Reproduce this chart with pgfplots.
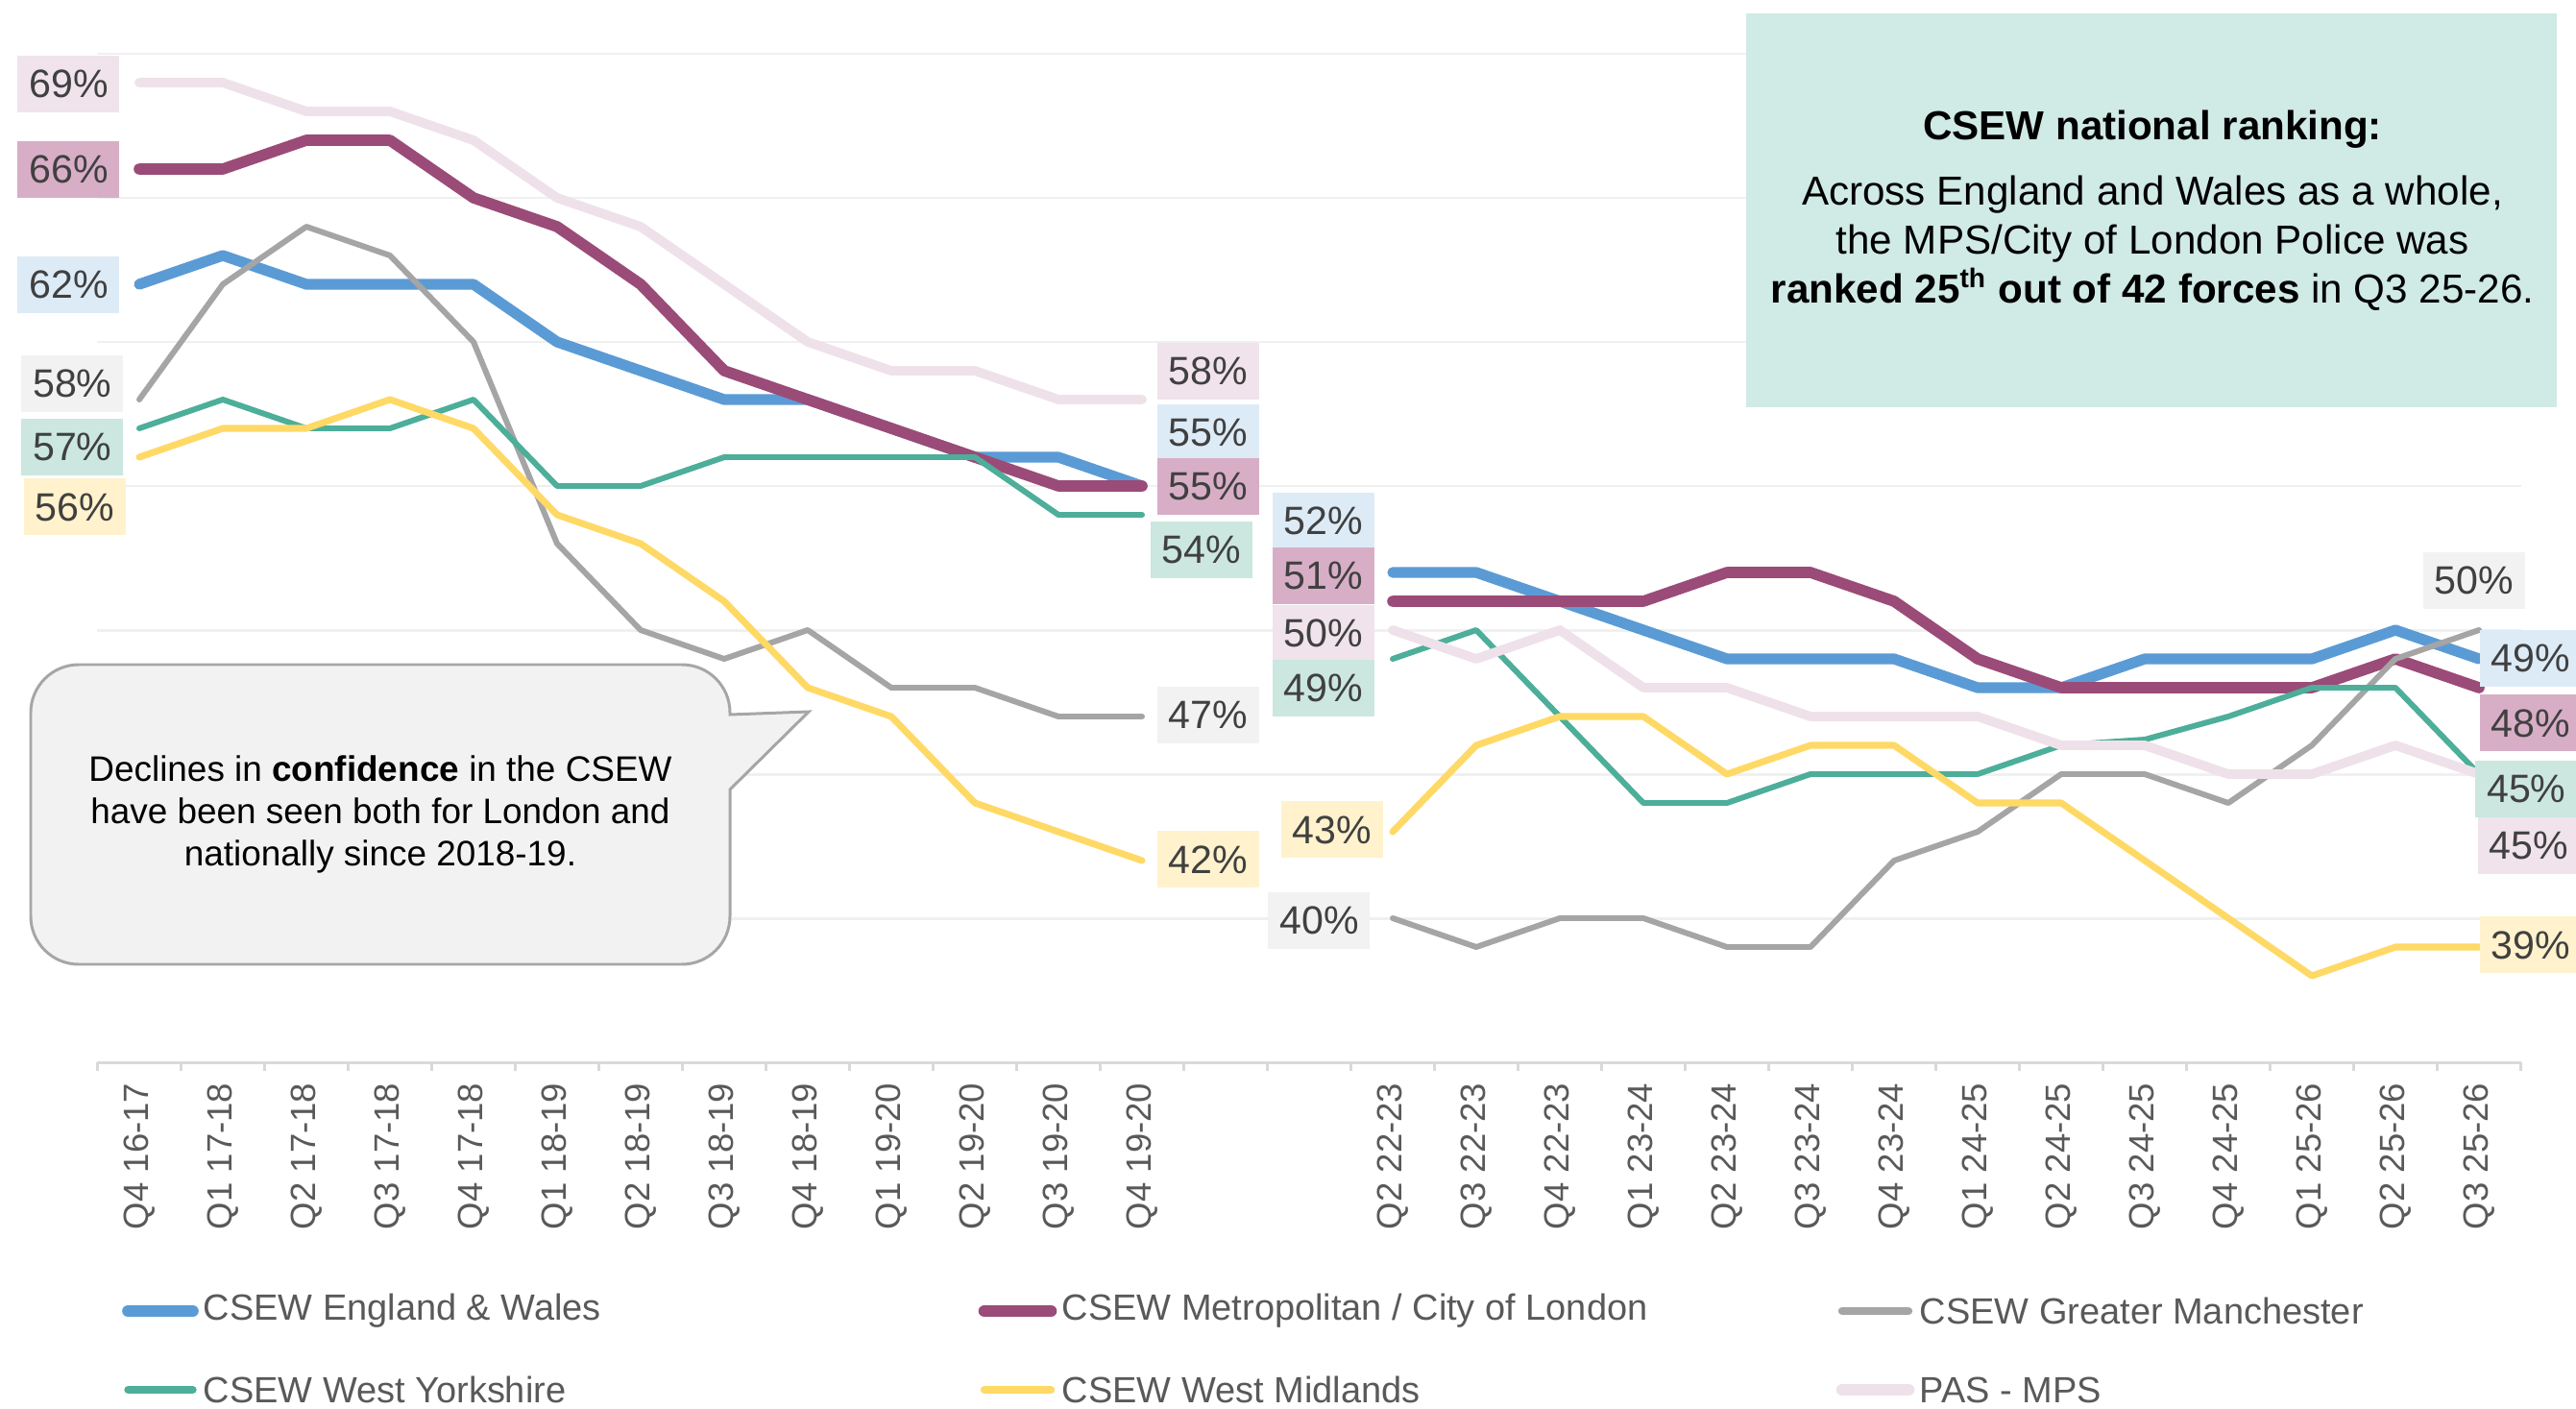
\documentclass[border=0pt]{standalone}
\usepackage{fontspec}
\setmainfont{Liberation Sans}
\usepackage{pgfplots}
\usepackage{pgfplotstable}
\pgfplotsset{compat=1.18}

\definecolor{ewline}{HTML}{5B9BD5}
\definecolor{metline}{HTML}{9B4B78}
\definecolor{gmline}{HTML}{A5A5A5}
\definecolor{wyline}{HTML}{4DAE9A}
\definecolor{wmline}{HTML}{FFD966}
\definecolor{pasline}{HTML}{EFE1EA}
\definecolor{ewfill}{HTML}{DDEBF7}
\definecolor{metfill}{HTML}{D8AEC7}
\definecolor{gmfill}{HTML}{F2F2F2}
\definecolor{wyfill}{HTML}{CBE7E0}
\definecolor{wmfill}{HTML}{FFF2CC}
\definecolor{pasfill}{HTML}{F0E3EB}
\definecolor{boxteal}{HTML}{D0EAE5}
\definecolor{axisgray}{HTML}{D9D9D9}
\definecolor{gridgray}{HTML}{F0F0F0}
\definecolor{lbltext}{HTML}{404040}
\definecolor{legtext}{HTML}{595959}
\definecolor{callfill}{HTML}{F2F2F2}
\definecolor{calldraw}{HTML}{A6A6A6}

% confidence (%) by quarter; 13 and 14 are the gap between the two runs
\pgfplotstableread{
x  ew  met gm  wy   wm  pas
0  62  66  58  57   56  69
1  63  66  62  58   57  69
2  62  67  64  57   57  68
3  62  67  63  57   58  68
4  62  65  60  58   57  67
5  60  64  53  55   54  65
6  59  62  50  55   53  64
7  58  59  49  56   51  62
8  58  58  50  56   48  60
9  57  57  48  56   47  59
10 56  56  48  56   44  59
11 56  55  47  54   43  58
12 55  55  47  54   42  58
13 nan nan nan nan  nan nan
14 nan nan nan nan  nan nan
15 52  51  40  49   43  50
16 52  51  39  50   46  49
17 51  51  40  47   47  50
18 50  51  40  44   47  48
19 49  52  39  44   45  48
20 49  52  39  45   46  47
21 49  51  42  45   46  47
22 48  49  43  45   44  47
23 48  48  45  46   44  46
24 49  48  45  46.2 42  46
25 49  48  44  47   40  45
26 49  48  46  48   38  45
27 50  49  49  48   39  46
28 49  48  50  45   39  45
}\conf

\tikzset{
  pct/.style={font=\fontsize{11.7}{14}\selectfont, text=lbltext, inner sep=0pt,
    minimum width=10.6mm, minimum height=5.9mm},
  legtxt/.style={anchor=west, font=\fontsize{10.8}{13}\selectfont, text=legtext, inner sep=0pt},
  ser/.style={line cap=round, line join=round},
}

\begin{document}
\begin{tikzpicture}
\useasboundingbox (-10.15mm,-36mm) rectangle (258.05mm,110.6mm);
\clip (-10.15mm,-36mm) rectangle (258.05mm,110.6mm);
\begin{axis}[
  scale only axis, width=252.3mm, height=105mm,
  xmin=-0.5, xmax=28.5, ymin=35, ymax=70,
  axis x line*=bottom, axis y line*=left,
  x axis line style={draw=axisgray, line width=0.85pt, -},
  y axis line style={draw=none},
  ytick={40,45,...,70}, yticklabels={}, ytick style={draw=none},
  ymajorgrids, grid style={draw=gridgray, line width=0.85pt},
  xtick={0,...,28}, major tick length=0pt,
  xticklabels={Q4 16-17,Q1 17-18,Q2 17-18,Q3 17-18,Q4 17-18,Q1 18-19,Q2 18-19,Q3 18-19,Q4 18-19,Q1 19-20,Q2 19-20,Q3 19-20,Q4 19-20,{},{},Q2 22-23,Q3 22-23,Q4 22-23,Q1 23-24,Q2 23-24,Q3 23-24,Q4 23-24,Q1 24-25,Q2 24-25,Q3 24-25,Q4 24-25,Q1 25-26,Q2 25-26,Q3 25-26},
  xticklabel style={rotate=90, anchor=east, inner sep=0pt, text=legtext,
    font=\fontsize{10.4}{12}\selectfont},
  xticklabel shift=2.1mm,
  extra x ticks={-0.5,0.5,...,28.5}, extra x tick labels={},
  extra x tick style={major tick length=0.9mm, tick align=outside,
    tick style={draw=axisgray, line width=0.85pt}},
  clip=false, unbounded coords=jump,
]
\addplot[ser, ewline,  line width=3.2pt] table[x=x,y=ew]{\conf};
\addplot[ser, metline, line width=3.3pt] table[x=x,y=met]{\conf};
\addplot[ser, gmline,  line width=1.7pt] table[x=x,y=gm]{\conf};
\addplot[ser, wyline,  line width=1.7pt] table[x=x,y=wy]{\conf};
\addplot[ser, wmline,  line width=2.0pt] table[x=x,y=wm]{\conf};
\addplot[ser, pasline, line width=2.8pt] table[x=x,y=pas]{\conf};

% start labels
\node[pct, fill=pasfill] at (axis cs:-0.845,68.95) {69\%};
\node[pct, fill=metfill] at (axis cs:-0.845,65.98) {66\%};
\node[pct, fill=ewfill]  at (axis cs:-0.845,61.98) {62\%};
\node[pct, fill=gmfill]  at (axis cs:-0.80,58.56) {58\%};
\node[pct, fill=wyfill]  at (axis cs:-0.80,56.35) {57\%};
\node[pct, fill=wmfill]  at (axis cs:-0.77,54.27) {56\%};
% Q4 19-20 labels
\node[pct, fill=pasfill] at (axis cs:12.79,59.0) {58\%};
\node[pct, fill=ewfill]  at (axis cs:12.79,56.85) {55\%};
\node[pct, fill=metfill] at (axis cs:12.79,55.0) {55\%};
\node[pct, fill=wyfill]  at (axis cs:12.71,52.77) {54\%};
\node[pct, fill=gmfill]  at (axis cs:12.79,47.05) {47\%};
\node[pct, fill=wmfill]  at (axis cs:12.79,42.04) {42\%};
% Q2 22-23 labels
\node[pct, fill=ewfill]  at (axis cs:14.17,53.8) {52\%};
\node[pct, fill=metfill] at (axis cs:14.17,51.87) {51\%};
\node[pct, fill=pasfill] at (axis cs:14.17,49.9) {50\%};
\node[pct, fill=wyfill]  at (axis cs:14.17,48.0) {49\%};
\node[pct, fill=wmfill]  at (axis cs:14.27,43.07) {43\%};
\node[pct, fill=gmfill]  at (axis cs:14.12,39.93) {40\%};
% Q3 25-26 labels
\node[pct, fill=gmfill]  at (axis cs:27.94,51.71) {50\%};
\node[pct, fill=ewfill, anchor=west]  at (axis cs:28.0,49.01) {49\%};
\node[pct, fill=metfill, anchor=west] at (axis cs:28.0,46.77) {48\%};
\node[pct, fill=wyfill, anchor=west]  at (axis cs:27.95,44.5) {45\%};
\node[pct, fill=pasfill, anchor=west] at (axis cs:27.98,42.53) {45\%};
\node[pct, fill=wmfill, anchor=west]  at (axis cs:28.0,39.07) {39\%};
\end{axis}

% ranking box
\fill[boxteal] (171.65mm,68.2mm) rectangle (256.05mm,109.2mm);
\node[font=\bfseries\fontsize{12}{14.5}\selectfont] at (213.95mm,97.1mm) {CSEW national ranking:};
\node[align=center, font=\fontsize{12}{14.5}\selectfont] at (213.95mm,85.3mm)
  {Across England and Wales as a whole,\\the MPS/City of London Police was\\\textbf{ranked 25\textsuperscript{th} out of 42 forces} in Q3 25-26.};

% callout
\filldraw[fill=callfill, draw=calldraw, line width=0.85pt]
  (-1.95mm,10.2mm) -- (60.85mm,10.2mm) arc[start angle=-90,end angle=0,radius=5mm]
  -- (65.85mm,28.4mm) -- (74.05mm,36.5mm) -- (65.85mm,36.2mm) -- (65.85mm,36.4mm)
  arc[start angle=0,end angle=90,radius=5mm] -- (-1.95mm,41.4mm)
  arc[start angle=90,end angle=180,radius=5mm] -- (-6.95mm,15.2mm)
  arc[start angle=180,end angle=270,radius=5mm] -- cycle;
\node[align=center, font=\fontsize{10.5}{12.5}\selectfont] at (29.45mm,25.8mm)
  {Declines in \textbf{confidence} in the CSEW\\have been seen both for London and\\nationally since 2018-19.};

% legend
\draw[ewline, line width=3.6pt, line cap=round] (3.2mm,-25.9mm) -- (9.9mm,-25.9mm);
\node[legtxt] at (10.95mm,-25.9mm) {CSEW England \& Wales};
\draw[metline, line width=3.6pt, line cap=round] (92.35mm,-25.9mm) -- (99.25mm,-25.9mm);
\node[legtxt] at (100.35mm,-25.9mm) {CSEW Metropolitan / City of London};
\draw[gmline, line width=2.4pt, line cap=round] (181.65mm,-25.9mm) -- (188.55mm,-25.9mm);
\node[legtxt] at (189.65mm,-25.9mm) {CSEW Greater Manchester};
\draw[wyline, line width=2.4pt, line cap=round] (3.2mm,-34.1mm) -- (9.9mm,-34.1mm);
\node[legtxt] at (10.95mm,-34.1mm) {CSEW West Yorkshire};
\draw[wmline, line width=2.4pt, line cap=round] (92.35mm,-34.1mm) -- (99.25mm,-34.1mm);
\node[legtxt] at (100.35mm,-34.1mm) {CSEW West Midlands};
\draw[pasline, line width=3.6pt, line cap=round] (181.65mm,-34.1mm) -- (188.55mm,-34.1mm);
\node[legtxt] at (189.65mm,-34.1mm) {PAS - MPS};
\end{tikzpicture}
\end{document}
